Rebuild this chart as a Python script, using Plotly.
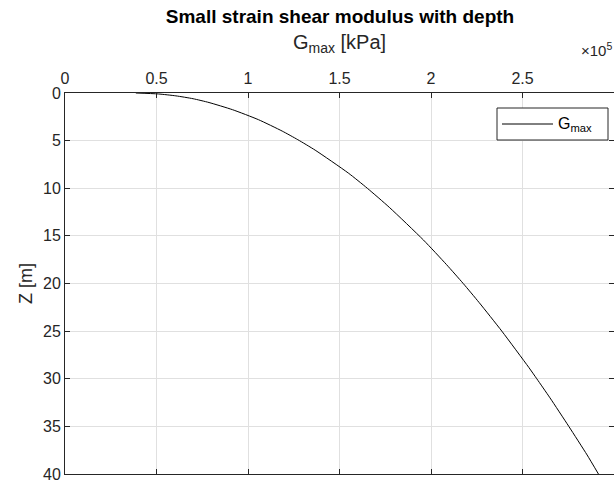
import plotly.graph_objects as go

# Data (depth in m, Gmax in kPa)
depth = [0.0, 0.1, 0.3, 0.6, 1.0, 1.75, 2.8, 4.0, 4.9, 6.0, 8.4, 10.0, 12.0,
         15.44, 18.0, 20.0, 22.0, 25.0, 28.8, 30.0, 32.0, 35.0, 38.0, 40.0]
gmax = [0.387e5, 0.51e5, 0.606e5, 0.70e5, 0.787e5, 0.915e5, 1.057e5, 1.187e5,
        1.272e5, 1.367e5, 1.548e5, 1.652e5, 1.772e5, 1.959e5, 2.084e5, 2.176e5,
        2.263e5, 2.387e5, 2.534e5, 2.578e5, 2.650e5, 2.753e5, 2.853e5, 2.915e5]

x_tickvals = [0, 0.5e5, 1e5, 1.5e5, 2e5, 2.5e5, 3e5]
x_ticktext = ["0", "0.5", "1", "1.5", "2", "2.5", "3"]
y_tickvals = [0, 5, 10, 15, 20, 25, 30, 35, 40]
series_name = "G<sub>max</sub>"

FONT = "Liberation Sans, Arial, Helvetica, sans-serif"
AX = "#262626"
GRID = "#e0e0e0"

# plot area in pixels
L, R, T, B = 65, 614, 93, 474
PW, PH = R - L, B - T


def px(xp):
    return (xp - L) / PW


def py(yp):
    return (B - yp) / PH


fig = go.Figure()
fig.add_trace(go.Scatter(x=gmax, y=depth, mode="lines",
                         line=dict(color="black", width=1, shape="spline",
                                   smoothing=0.6),
                         name=series_name, showlegend=False))

fig.update_layout(
    width=614, height=486,
    margin=dict(l=L, r=614 - R, t=T, b=486 - B),
    paper_bgcolor="white", plot_bgcolor="white",
    font=dict(family=FONT, size=16, color=AX),
    title=dict(text="<b>Small strain shear modulus with depth</b>",
               x=340 / 614, xanchor="center",
               y=1 - 16 / 486, yanchor="middle",
               font=dict(family=FONT, size=19, color="black")),
    xaxis=dict(side="top", range=[0, 3e5], tickvals=x_tickvals,
               ticktext=x_ticktext, ticks="inside", ticklen=5,
               tickcolor=AX, showline=True, linecolor=AX, linewidth=1,
               mirror="ticks", showgrid=True, gridcolor=GRID, gridwidth=1,
               zeroline=False, tickfont=dict(size=16, color=AX),
               ticklabelstandoff=2,
               title=dict(text="G<sub>max</sub> [kPa]", standoff=14,
                          font=dict(size=20, color=AX))),
    yaxis=dict(range=[40, 0], tickvals=y_tickvals, ticks="inside",
               ticklen=5, tickcolor=AX, showline=True, linecolor=AX,
               linewidth=1, mirror="ticks", showgrid=True, gridcolor=GRID,
               gridwidth=1, zeroline=False, tickfont=dict(size=16, color=AX),
               title=dict(text="Z [m]", standoff=5,
                          font=dict(size=18, color=AX))),
)

# exponent label
fig.add_annotation(text="\u00d710<sup>5</sup>", xref="paper", yref="paper",
                   x=px(614), xanchor="right",
                   y=py(50), yanchor="middle", showarrow=False,
                   font=dict(family=FONT, size=15, color=AX))

# legend box (MATLAB style, long line sample)
fig.add_shape(type="rect", xref="paper", yref="paper",
              x0=px(497), x1=px(608), y0=py(140), y1=py(108),
              line=dict(color=AX, width=1), fillcolor="white", layer="above")
fig.add_shape(type="line", xref="paper", yref="paper",
              x0=px(502), x1=px(553), y0=py(124), y1=py(124),
              line=dict(color="black", width=1), layer="above")
fig.add_annotation(text=series_name, xref="paper", yref="paper",
                   x=px(556), xanchor="left", y=py(124), yanchor="middle",
                   showarrow=False,
                   font=dict(family=FONT, size=16, color="black"))

fig.write_html("out.html")
